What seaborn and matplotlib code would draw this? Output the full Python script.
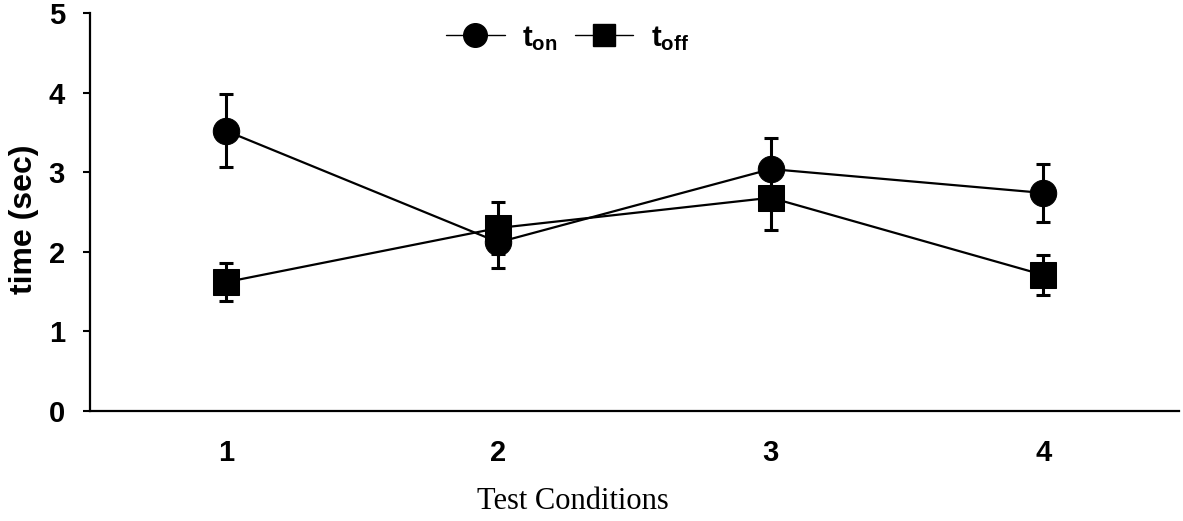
import matplotlib
matplotlib.use("Agg")
import matplotlib.pyplot as plt
import seaborn as sns
import pandas as pd
from matplotlib.lines import Line2D

conditions = [1, 2, 3, 4]
t_on = [3.52, 2.12, 3.04, 2.74]
t_on_err = [0.46, 0.32, 0.39, 0.36]
t_off = [1.62, 2.30, 2.68, 1.71]
t_off_err = [0.24, 0.33, 0.40, 0.25]
series_labels = [r"$\mathbf{t_{on}}$", r"$\mathbf{t_{off}}$"]
y_ticks = [0, 1, 2, 3, 4, 5]

sns.set_theme(style="white")
plt.rcParams["font.family"] = ["Liberation Sans", "DejaVu Sans"]
plt.rcParams["mathtext.fontset"] = "custom"
plt.rcParams["mathtext.rm"] = "Liberation Sans"
plt.rcParams["mathtext.bf"] = "Liberation Sans:bold"
for k in ["text.color", "axes.labelcolor", "xtick.color", "ytick.color"]:
    plt.rcParams[k] = "black"

df = pd.DataFrame({
    "cond": conditions * 2,
    "time": t_on + t_off,
    "err": t_on_err + t_off_err,
    "series": [series_labels[0]] * 4 + [series_labels[1]] * 4,
})

fig = plt.figure(figsize=(11.83, 5.21), dpi=100)
ax = fig.add_axes([0.076, 0.211, 0.921, 0.764])

for lab in series_labels:
    sub = df[df["series"] == lab]
    ax.errorbar(sub["cond"], sub["time"], yerr=sub["err"], fmt="none",
                ecolor="black", elinewidth=2.2, capsize=5, capthick=2.2, zorder=2)

sns.lineplot(data=df, x="cond", y="time", hue="series", style="series",
             markers={series_labels[0]: "o", series_labels[1]: "s"},
             dashes=False, palette=["black", "black"], linewidth=1.6,
             markersize=19, markeredgecolor="black", ax=ax, zorder=3,
             legend=False)

ax.set_xlim(0.5, 4.5)
ax.set_ylim(0, 5)
ax.set_xticks(conditions)
ax.set_xticklabels([str(c) for c in conditions], fontsize=21, fontweight="bold")
ax.set_yticks(y_ticks)
ax.set_yticklabels([str(t) for t in y_ticks], fontsize=21, fontweight="bold")
ax.tick_params(axis="x", length=0, pad=20)
ax.tick_params(axis="y", length=5, width=1.5, direction="out", left=True, pad=13)

for s in ["top", "right"]:
    ax.spines[s].set_visible(False)
for s in ["left", "bottom"]:
    ax.spines[s].set_color("black")
    ax.spines[s].set_linewidth(1.6)

ax.set_ylabel("time (sec)", fontsize=23, fontweight="bold")
ax.yaxis.set_label_coords(-0.047, 0.482)
ax.set_xlabel("Test Conditions", fontsize=22, family=["Liberation Serif", "DejaVu Serif"])
ax.xaxis.set_label_coords(0.4436, -0.19)

handles = [Line2D([], [], color="black", linewidth=1.0, marker="o", markersize=17),
           Line2D([], [], color="black", linewidth=1.0, marker="s", markersize=16)]
ax.legend(handles, series_labels, loc="center", bbox_to_anchor=(0.4385, 0.937),
          ncol=2, frameon=False, fontsize=21, handlelength=2.0,
          columnspacing=0.6, handletextpad=0.6)

fig.savefig("out.png", dpi=100)
